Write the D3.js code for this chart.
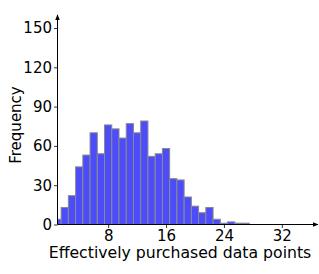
<!DOCTYPE html>
<html>
<head>
<meta charset="utf-8">
<script src="https://cdn.jsdelivr.net/npm/d3@7"></script>
<style>
body { margin: 0; background: #fff; }
text { font-family: "DejaVu Sans", sans-serif; fill: #000; }
</style>
</head>
<body>
<script>
var w = 319;
var h = 274;

// histogram bins, centred on integer counts
var binCenters = [1,2,3,4,5,6,7,8,9,10,11,12,13,14,15,16,17,18,19,20,21,22,23,24,25,26,27];
var frequency = [4,13,22,44,53,70,54,76,73,66,77,70,79,52,54,58,35,34,21,14,9,13,4,1,2,1,1];
var xTicks = [8,16,24,32];
var yTicks = [0,30,60,90,120,150];

var svg = d3.select("body")
            .append("svg")
            .attr("width", w)
            .attr("height", h);

var x = d3.scaleLinear().domain([1, 37]).range([57.5, 318]);
var y = d3.scaleLinear().domain([0, 160]).range([224.5, 14.9]);

svg.append("defs").append("clipPath").attr("id", "plot")
    .append("rect")
    .attr("x", x(1)).attr("y", 0)
    .attr("width", x(37) - x(1)).attr("height", y(0));

svg.append("g")
    .attr("clip-path", "url(#plot)")
    .selectAll("rect")
    .data(binCenters)
    .enter()
    .append("rect")
    .attr("x", function(d){ return x(d - 0.5); })
    .attr("width", function(d){ return x(d + 0.5) - x(d - 0.5); })
    .attr("y", function(d, i){ return y(frequency[i]); })
    .attr("height", function(d, i){ return y(0) - y(frequency[i]); })
    .attr("fill", "#4c4cfb")
    .attr("stroke", "#8a8a8a")
    .attr("stroke-width", 1);

// arrow heads for the spines
svg.select("defs").append("marker")
    .attr("id", "arrow")
    .attr("viewBox", "0 0 10 10")
    .attr("refX", 9).attr("refY", 5)
    .attr("markerWidth", 6).attr("markerHeight", 6)
    .attr("markerUnits", "userSpaceOnUse")
    .attr("orient", "auto")
    .append("path")
    .attr("d", "M0,1L10,5L0,9z")
    .attr("fill", "#000");

var xAxis = svg.append("g")
    .attr("transform", "translate(0," + y(0) + ")")
    .call(d3.axisBottom(x).tickValues(xTicks).tickSize(3.5).tickPadding(2));
var yAxis = svg.append("g")
    .attr("transform", "translate(" + x(1) + ",0)")
    .call(d3.axisLeft(y).tickValues(yTicks).tickSize(3.5).tickPadding(2));

[xAxis, yAxis].forEach(function(g){
    g.select(".domain").remove();
    g.selectAll("text").attr("font-size", 15).style("font-family", "DejaVu Sans");
    g.selectAll("line").attr("stroke", "#000").attr("stroke-width", 0.8);
});

svg.append("line")
    .attr("x1", x(1)).attr("y1", y(0))
    .attr("x2", x(37)).attr("y2", y(0))
    .attr("stroke", "#000").attr("stroke-width", 1)
    .attr("marker-end", "url(#arrow)");
svg.append("line")
    .attr("x1", x(1)).attr("y1", y(0))
    .attr("x2", x(1)).attr("y2", y(160))
    .attr("stroke", "#000").attr("stroke-width", 1)
    .attr("marker-end", "url(#arrow)");

svg.append("text")
    .text("Effectively purchased data points")
    .attr("x", 180)
    .attr("y", 258)
    .attr("text-anchor", "middle")
    .attr("font-size", 15.7);

svg.append("text")
    .text("Frequency")
    .attr("transform", "translate(21,125) rotate(-90)")
    .attr("text-anchor", "middle")
    .attr("font-size", 15);
</script>
</body>
</html>
